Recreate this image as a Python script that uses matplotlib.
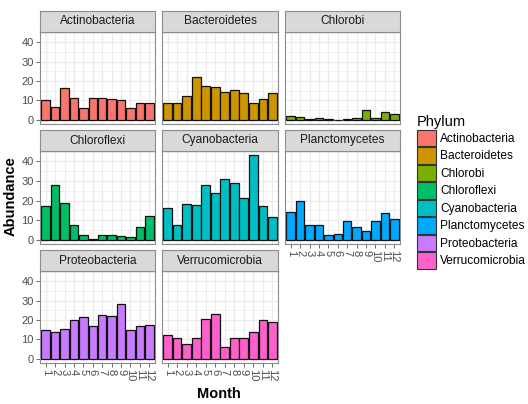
import matplotlib.pyplot as plt
from matplotlib.patches import Patch

plt.rcParams['font.family'] = ['Liberation Sans', 'DejaVu Sans']

months = list(range(1, 13))
phyla = ['Actinobacteria', 'Bacteroidetes', 'Chlorobi', 'Chloroflexi',
         'Cyanobacteria', 'Planctomycetes', 'Proteobacteria', 'Verrucomicrobia']
colors = ['#F8766D', '#CD9600', '#7CAE00', '#00BE67',
          '#00BFC4', '#00A9FF', '#C77CFF', '#FF61CC']

actinobacteria = [10.0, 6.6, 16.3, 11.5, 6.0, 11.3, 11.3, 11.0, 10.3, 6.2, 8.8, 8.5]
bacteroidetes = [8.8, 8.8, 12.4, 22.0, 17.3, 17.1, 14.4, 15.4, 13.7, 8.8, 11.0, 13.7]
chlorobi = [2.0, 1.2, 0.5, 0.7, 0.3, 0.0, 0.3, 1.0, 5.0, 0.8, 3.8, 3.0]
chloroflexi = [17.3, 27.8, 18.6, 7.6, 2.2, 0.5, 2.4, 2.4, 1.9, 1.4, 6.3, 11.9]
cyanobacteria = [16.4, 7.6, 18.5, 17.9, 28.0, 23.8, 30.9, 29.2, 21.3, 43.2, 17.1, 11.5]
planctomycetes = [14.4, 19.8, 7.6, 7.5, 2.4, 3.2, 9.8, 6.4, 4.7, 9.7, 13.6, 10.8]
proteobacteria = [14.8, 13.8, 15.2, 19.8, 21.7, 17.1, 22.8, 21.9, 28.1, 14.8, 16.9, 17.6]
verrucomicrobia = [12.4, 10.5, 7.9, 10.5, 20.5, 23.1, 6.0, 10.5, 10.7, 13.6, 20.0, 19.0]

values = [actinobacteria, bacteroidetes, chlorobi, chloroflexi,
          cyanobacteria, planctomycetes, proteobacteria, verrucomicrobia]

W, H = 528, 404
fig = plt.figure(figsize=(W / 100, H / 100), dpi=100)


def rect(x0, x1, y0, y1):
    # pixel box (top-left origin) -> figure fraction
    return [x0 / W, 1 - y1 / H, (x1 - x0) / W, (y1 - y0) / H]


cols = [(40, 155), (162, 278), (285, 400)]
rows = [(32, 124), (151, 244), (271, 363)]
border = '#8C8C8C'

for i, (name, vals, col) in enumerate(zip(phyla, values, colors)):
    r, c = divmod(i, 3)
    x0, x1 = cols[c]
    y0, y1 = rows[r]
    ax = fig.add_axes(rect(x0, x1, y0, y1))
    ax.set_axisbelow(True)
    ax.bar(months, vals, width=0.9, color=col, edgecolor='#111111', linewidth=0.9)
    ax.set_xlim(0.4, 12.6)
    ax.set_ylim(-2.16, 45.36)
    ax.set_xticks(months)
    ax.set_xticklabels([str(m) for m in months], rotation=270, va='top', ha='center')
    ax.set_yticks([0, 10, 20, 30, 40])
    ax.set_yticks([5, 15, 25, 35, 45], minor=True)
    ax.grid(which='major', color='#EBEBEB', lw=0.9)
    ax.grid(which='minor', axis='y', color='#EBEBEB', lw=0.5)
    for s in ax.spines.values():
        s.set_color(border)
        s.set_linewidth(0.8)
    ax.tick_params(which='minor', length=0)
    ax.tick_params(axis='both', length=3, width=0.6, color='#555555',
                   labelsize=8, labelcolor='#4D4D4D', pad=1.5)
    if c != 0:
        ax.tick_params(axis='y', left=False, labelleft=False)
    if not (r == 2 or (r == 1 and c == 2)):
        ax.tick_params(axis='x', bottom=False, labelbottom=False)

    # facet strip
    sax = fig.add_axes(rect(x0, x1, y0 - 21, y0))
    sax.set_facecolor('#D9D9D9')
    sax.set_xticks([])
    sax.set_yticks([])
    for s in sax.spines.values():
        s.set_color(border)
        s.set_linewidth(0.8)
    sax.text(0.5, 0.5, name, ha='center', va='center', fontsize=8.6,
             color='#1A1A1A', transform=sax.transAxes)

fig.text(10.5 / W, 1 - 196 / H, 'Abundance', rotation=90, fontsize=10.5,
         fontweight='bold', ha='center', va='center')
fig.text(219 / W, 1 - 394 / H, 'Month', fontsize=10.5,
         fontweight='bold', ha='center', va='center')

handles = [Patch(facecolor=c, edgecolor='#333333', linewidth=0.8) for c in colors]
fig.legend(handles, phyla, title='Phylum', loc='upper left',
           bbox_to_anchor=(417 / W, 1 - 115 / H), frameon=False, fontsize=8.6,
           title_fontsize=10.5, handlelength=1.6, handleheight=1.8,
           labelspacing=0.05, handletextpad=0.35, borderpad=0,
           borderaxespad=0, alignment='left')

fig.savefig('out.png', dpi=100)
